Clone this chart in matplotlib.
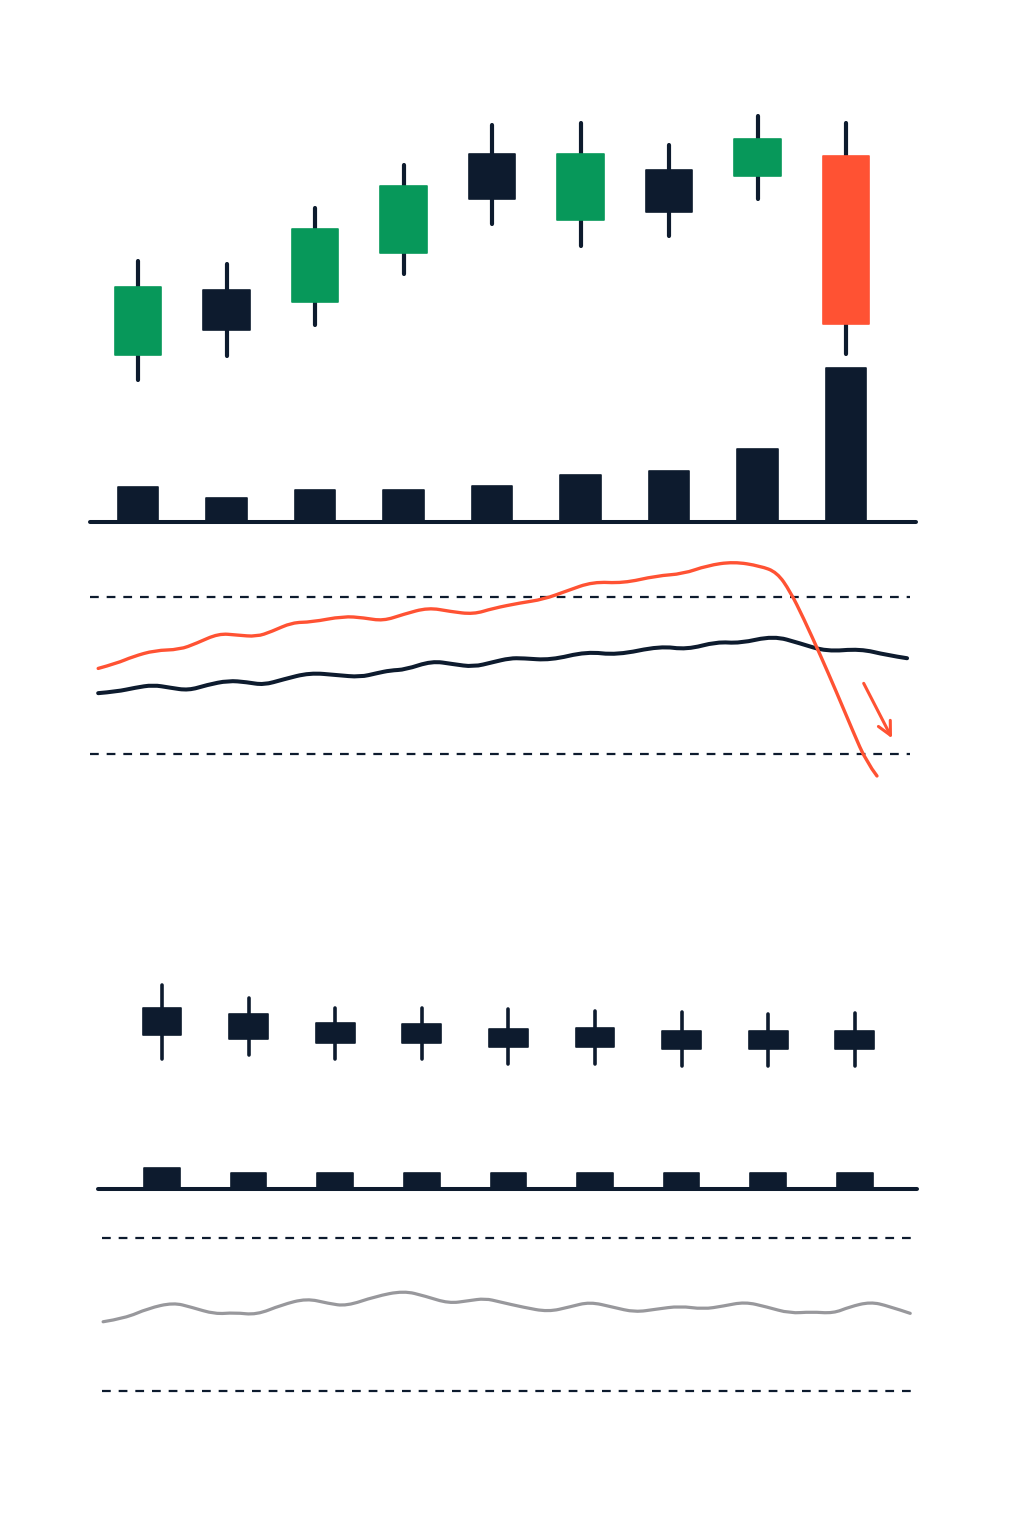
import matplotlib
matplotlib.use("Agg")
import matplotlib.pyplot as plt
from matplotlib.path import Path
from matplotlib.patches import PathPatch
import numpy as np

plt.rcParams['lines.scale_dashes'] = False

# ---------------- DATA ----------------
# Top section: 9 candles (price units)
top_open  = [29.0, 42.1, 39.7, 49.5, 69.2, 56.0, 66.0, 64.8, 68.7]
top_close = [42.7, 34.0, 54.2, 62.9, 60.3, 69.2, 57.7, 72.2, 35.3]
top_high  = [47.8, 47.3, 58.5, 67.0, 75.0, 75.5, 71.1, 76.9, 75.5]
top_low   = [24.1, 28.9, 35.0, 45.2, 55.2, 50.9, 52.8, 60.3, 29.3]
top_volume = [350, 240, 320, 320, 360, 470, 510, 730, 1540]
crash_index = 8

# Top oscillator (x in bar-index units, values on 0-100 scale)
osc_levels = [70, 30]
fast_x = [-0.45, -0.24, -0.06, 0.19, 0.47, 0.66, 0.91, 1.12, 1.34, 1.51, 1.74, 1.96,
          2.32, 2.55, 2.77, 3.00, 3.28, 3.53, 3.79, 4.01, 4.32, 4.58, 4.84, 5.14,
          5.48, 5.86, 6.16, 6.43, 6.73, 7.03, 7.22, 7.37, 7.52, 7.71, 7.89, 8.08,
          8.23, 8.35]
fast_y = [51.8, 53.1, 54.8, 56.4, 56.6, 58.2, 60.7, 60.3, 59.9, 61.2, 63.5, 63.6,
          65.1, 64.7, 63.9, 65.6, 67.3, 66.3, 65.6, 67.1, 68.5, 69.4, 71.5, 73.9,
          73.5, 75.4, 75.9, 78.0, 79.0, 77.9, 76.3, 71.4, 64.6, 55.2, 45.9, 35.7,
          28.0, 24.4]
slow_x = [-0.45, -0.24, -0.03, 0.17, 0.36, 0.57, 0.78, 1.02, 1.23, 1.42, 1.64, 1.94,
          2.25, 2.51, 2.70, 2.85, 3.02, 3.32, 3.56, 3.79, 4.01, 4.20, 4.35, 4.66,
          5.07, 5.41, 5.90, 6.20, 6.54, 6.80, 7.18, 7.48, 7.78, 8.16, 8.46, 8.69]
slow_y = [45.5, 45.9, 46.9, 47.6, 46.9, 46.2, 47.6, 48.7, 48.3, 47.6, 49.0, 50.7,
          50.1, 49.6, 50.6, 51.3, 51.5, 53.7, 52.9, 52.2, 53.4, 54.4, 54.4, 53.9,
          56.1, 55.2, 57.5, 56.6, 58.6, 58.2, 60.1, 58.2, 56.1, 56.8, 55.2, 54.4]
arrow_start = (8.20, 48.0)
arrow_end = (8.52, 34.0)

# Bottom section: 9 small candles
bot_open  = [18.5, 17.3, 15.5, 15.3, 14.3, 14.4, 13.9, 13.8, 13.9]
bot_close = [13.0, 12.2, 11.4, 11.4, 10.7, 10.6, 10.3, 10.2, 10.2]
bot_high  = [23.0, 20.5, 18.5, 18.5, 18.2, 17.9, 17.7, 17.3, 17.5]
bot_low   = [8.3, 9.0, 8.3, 8.3, 7.3, 7.3, 6.9, 6.9, 6.8]
bot_volume = [210, 165, 165, 165, 165, 165, 165, 165, 165]

# Bottom oscillator
calm_x = [-0.68, -0.43, -0.16, 0.13, 0.34, 0.61, 0.84, 1.09, 1.38, 1.67, 1.92, 2.13,
          2.46, 2.79, 3.04, 3.31, 3.54, 3.73, 3.90, 4.17, 4.46, 4.71, 4.94, 5.21,
          5.46, 5.71, 5.98, 6.25, 6.48, 6.73, 6.98, 7.25, 7.50, 7.75, 7.94, 8.18,
          8.39, 8.64]
calm_y = [48.1, 49.0, 51.6, 53.1, 51.9, 50.1, 50.5, 49.9, 52.5, 54.2, 52.9, 52.2,
          54.7, 56.2, 54.8, 52.9, 53.6, 54.2, 53.3, 51.9, 50.7, 52.0, 53.3, 51.9,
          50.6, 51.4, 52.2, 51.4, 52.2, 53.3, 52.0, 50.3, 50.7, 50.3, 52.0, 53.3,
          52.2, 50.3]

# ---------------- STYLE ----------------
GREEN = '#07985A'
DARK = '#0D1B2E'
ORANGE = '#FF5233'
GREY = '#98989C'

W, H = 1024, 1536
fig = plt.figure(figsize=(W / 100, H / 100), dpi=100)
fig.patch.set_facecolor('white')


def px_axes(y_top, y_bot, x0_px, step_px, ylim):
    ax = fig.add_axes([0, 1 - y_bot / H, 1, (y_bot - y_top) / H])
    ax.set_xlim(-x0_px / step_px, (W - x0_px) / step_px)
    ax.set_ylim(*ylim)
    ax.axis('off')
    ax.patch.set_alpha(0)
    return ax


def draw_candles(ax, o, c, h, l, body_w, wick_lw, colors):
    idx = np.arange(len(o))
    ax.vlines(idx, l, h, colors=DARK, linewidth=wick_lw, capstyle='round', zorder=1)
    bottoms = np.minimum(o, c)
    heights = np.abs(np.array(c) - np.array(o))
    ax.bar(idx, heights, bottom=bottoms, width=body_w, color=colors,
           edgecolor=colors, linewidth=1.2, joinstyle='round', zorder=2)


def smooth_line(ax, xs, ys, color, lw, z):
    """Draw the series as a smooth quadratic-Bezier path through the readings."""
    pts = np.column_stack([xs, ys])
    verts = [pts[0]]
    codes = [Path.MOVETO]
    n = len(pts)
    for k in range(1, n - 1):
        mid = (pts[k] + pts[k + 1]) / 2 if k < n - 2 else pts[k + 1]
        verts += [pts[k], mid]
        codes += [Path.CURVE3, Path.CURVE3]
    patch = PathPatch(Path(verts, codes), facecolor='none', edgecolor=color,
                      lw=lw, capstyle='round', joinstyle='round', zorder=z)
    ax.add_patch(patch)


# ---- Top section ----
TOP_X0, TOP_STEP = 138, 88.5
ax_c = px_axes(100, 400, TOP_X0, TOP_STEP, (20, 80))
top_colors = []
for i, (o, c) in enumerate(zip(top_open, top_close)):
    if i == crash_index:
        top_colors.append(ORANGE)
    else:
        top_colors.append(GREEN if c > o else DARK)
draw_candles(ax_c, top_open, top_close, top_high, top_low, 0.53, 3.0, top_colors)

ax_v = px_axes(350, 530, TOP_X0, TOP_STEP, (-80, 1720))
ax_v.bar(np.arange(len(top_volume)), top_volume, width=0.455, color=DARK,
         edgecolor=DARK, linewidth=1.2, joinstyle='round', zorder=2)
ax_v.hlines(0, -0.54, 8.79, colors=DARK, linewidth=2.9, capstyle='round', zorder=3)

osc_scale = 40 / 157.0
ax_o = px_axes(540, 800, TOP_X0, TOP_STEP,
               (30 - (800 - 754) * osc_scale, 30 + (754 - 540) * osc_scale))
for lvl in osc_levels:
    ax_o.hlines(lvl, -0.54, 8.72, colors=DARK, linewidth=1.6,
                linestyles=(0, (6.3, 5.7)))
smooth_line(ax_o, slow_x, slow_y, DARK, 2.9, 3)
smooth_line(ax_o, fast_x, fast_y, ORANGE, 2.4, 4)
ax_o.annotate('', xy=arrow_end, xytext=arrow_start,
              arrowprops=dict(arrowstyle='->', color=ORANGE, lw=2.2,
                              mutation_scale=24, shrinkA=0, shrinkB=0))

# ---- Bottom section ----
BOT_X0, BOT_STEP = 162, 86.6
ax_bc = px_axes(960, 1090, BOT_X0, BOT_STEP, (2, 28))
draw_candles(ax_bc, bot_open, bot_close, bot_high, bot_low, 0.45, 2.6,
             [DARK] * len(bot_open))

ax_bv = px_axes(1140, 1200, BOT_X0, BOT_STEP, (-110, 490))
ax_bv.bar(np.arange(len(bot_volume)), bot_volume, width=0.41, color=DARK,
          edgecolor=DARK, linewidth=1.2, joinstyle='round', zorder=2)
ax_bv.hlines(0, -0.74, 8.72, colors=DARK, linewidth=2.9, capstyle='round', zorder=3)

calm_scale = 40 / 153.0
ax_bo = px_axes(1220, 1410, BOT_X0, BOT_STEP,
                (30 - (1410 - 1391) * calm_scale, 30 + (1391 - 1220) * calm_scale))
for lvl in osc_levels:
    ax_bo.hlines(lvl, -0.69, 8.66, colors=DARK, linewidth=1.6,
                 linestyles=(0, (6.3, 5.7)))
smooth_line(ax_bo, calm_x, calm_y, GREY, 2.3, 3)

fig.savefig('out.png', dpi=100, facecolor='white')
